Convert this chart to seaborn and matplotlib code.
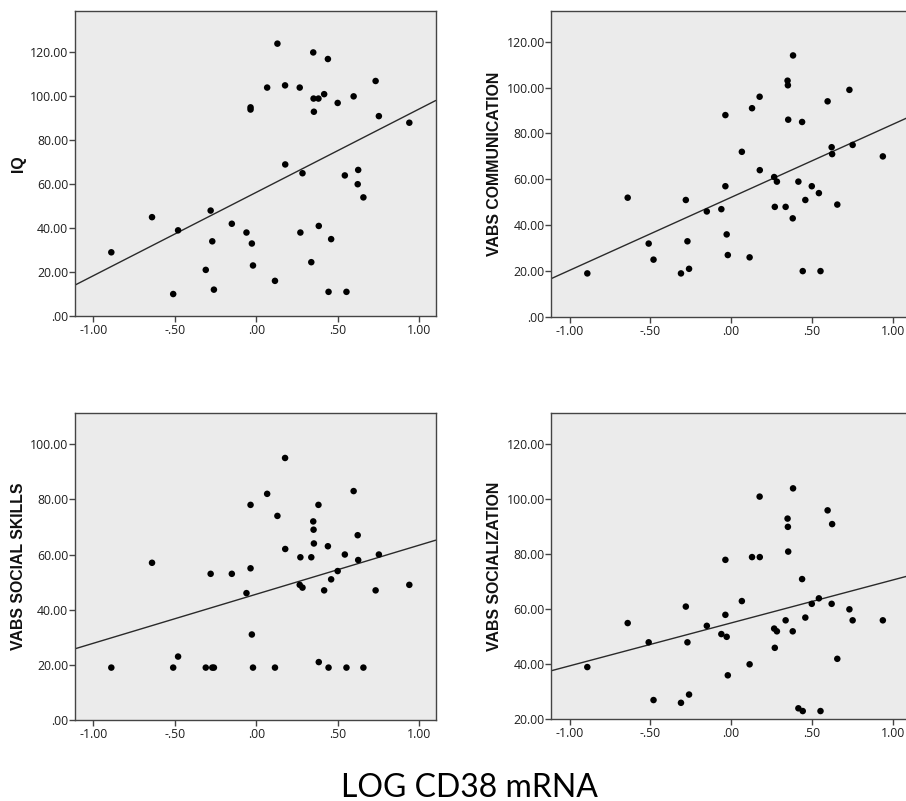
import numpy as np
import pandas as pd
import matplotlib
matplotlib.use("Agg")
import matplotlib.pyplot as plt
from matplotlib.ticker import FuncFormatter
import seaborn as sns

# LOG CD38 mRNA per subject (shared by all four panels)
log_cd38 = [-0.89, -0.64, -0.51, -0.48, -0.31, -0.28, -0.27, -0.26, -0.15, -0.06,
            -0.035, -0.035, -0.027, -0.02, 0.067, 0.115, 0.13, 0.177, 0.178, 0.267,
            0.271, 0.284, 0.338, 0.35, 0.352, 0.354, 0.382, 0.384, 0.417, 0.44,
            0.444, 0.46, 0.50, 0.544, 0.554, 0.598, 0.623, 0.626, 0.658, 0.733,
            0.753, 0.94]

iq = [29, 45, 10, 39, 21, 48, 34, 12, 42, 38,
      95, 94, 33, 23, 104, 16, 124, 105, 69, 104,
      38, 65, 24.5, 120, 99, 93, 99, 41, 101, 117,
      11, 35, 97, 64, 11, 100, 60, 66.5, 54, 107,
      91, 88]

vabs_communication = [19, 52, 32, 25, 19, 51, 33, 21, 46, 47,
                      88, 57, 36, 27, 72, 26, 91, 96, 64, 61,
                      48, 59, 48, 103, 101, 86, 43, 114, 59, 85,
                      20, 51, 57, 54, 20, 94, 74, 71, 49, 99,
                      75, 70]

vabs_social_skills = [19, 57, 19, 23, 19, 53, 19, 19, 53, 46,
                      78, 55, 31, 19, 82, 19, 74, 95, 62, 49,
                      59, 48, 59, 72, 69, 64, 78, 21, 47, 63,
                      19, 51, 54, 60, 19, 83, 67, 58, 19, 47,
                      60, 49]

vabs_socialization = [39, 55, 48, 27, 26, 61, 48, 29, 54, 51,
                      78, 58, 50, 36, 63, 40, 79, 101, 79, 53,
                      46, 52, 56, 93, 90, 81, 52, 104, 24, 71,
                      23, 57, 62, 64, 23, 96, 62, 91, 42, 60,
                      56, 56]

panel_titles = ["IQ", "VABS COMMUNICATION", "VABS SOCIAL SKILLS", "VABS SOCIALIZATION"]
x_ticks = [-1.0, -0.5, 0.0, 0.5, 1.0]

df = pd.DataFrame({
    "LOG CD38 mRNA": log_cd38,
    "IQ": iq,
    "VABS COMMUNICATION": vabs_communication,
    "VABS SOCIAL SKILLS": vabs_social_skills,
    "VABS SOCIALIZATION": vabs_socialization,
})

sns.set_theme(style="white")
plt.rcParams["font.family"] = ["Open Sans", "DejaVu Sans"]

W, H = 906, 801
fig = plt.figure(figsize=(W / 100, H / 100), dpi=100)
fig.patch.set_facecolor("white")

# axes boxes in pixels: left, top, right, bottom
boxes = [
    (75, 10.7, 435.7, 316.0),
    (551.3, 10.7, 909.0, 317.0),
    (75, 413.3, 435.7, 720.0),
    (551.3, 413.3, 909.0, 719.3),
]
y_limits = [(0, 139), (0, 133.5), (0, 111.2), (20, 131.3)]
y_tick_ranges = [(0, 120), (0, 120), (0, 100), (20, 120)]


def spss_fmt(v, pos=None):
    s = f"{v:.2f}"
    if s.startswith("0."):
        s = s[1:]
    elif s.startswith("-0."):
        s = "-" + s[2:]
    return s


for title, (l, t, r, b), ylim, (y0, y1) in zip(panel_titles, boxes, y_limits, y_tick_ranges):
    ax = fig.add_axes([l / W, 1 - b / H, (r - l) / W, (b - t) / H])
    ax.set_facecolor("#ebebeb")
    ax.set_xlim(-1.113, 1.102)
    ax.set_ylim(*ylim)
    sns.regplot(data=df, x="LOG CD38 mRNA", y=title, ax=ax, ci=None, truncate=False,
                scatter_kws=dict(s=22, color="black", edgecolor="none", alpha=1, zorder=3),
                line_kws=dict(color="#2a2a2a", lw=1.0, zorder=2))
    ax.set_xlim(-1.113, 1.102)
    ax.set_ylim(*ylim)
    ax.set_xticks(x_ticks)
    ax.set_yticks(np.arange(y0, y1 + 1, 20))
    ax.xaxis.set_major_formatter(FuncFormatter(spss_fmt))
    ax.yaxis.set_major_formatter(FuncFormatter(spss_fmt))
    ax.tick_params(axis="both", which="major", direction="out", length=4.3, width=1,
                   color="#444444", labelsize=8.8, labelcolor="#1e1e1e",
                   bottom=True, left=True)
    ax.tick_params(axis="y", pad=0.5)
    ax.tick_params(axis="x", pad=1.5)
    ax.set_xlabel("")
    ax.set_ylabel(title, family="Liberation Sans", fontweight="bold", fontsize=11.4,
                  color="#111111", labelpad=3.0)
    for sp in ax.spines.values():
        sp.set_visible(True)
        sp.set_color("#444444")
        sp.set_linewidth(1.0)
    ax.grid(False)

fig.text(469 / W, 1 - 796.7 / H, "LOG CD38 mRNA", family="Lato", fontsize=23,
         ha="center", va="baseline", color="black")

fig.savefig("out.png", dpi=100, facecolor="white")
